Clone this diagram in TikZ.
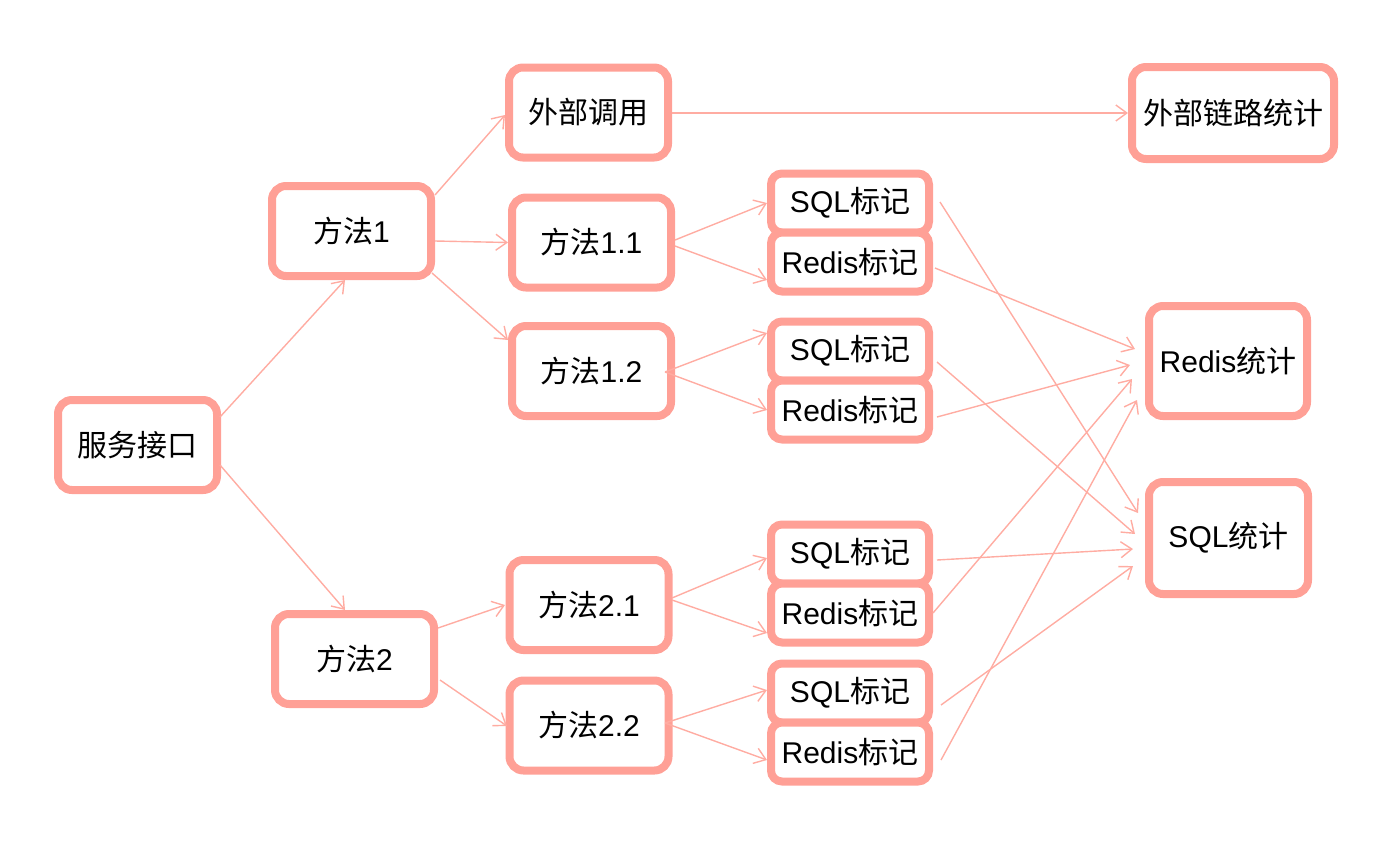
\documentclass[tikz,border=0pt]{standalone}
\usepackage{fontspec}
\setmainfont{Liberation Sans}
\newfontfamily\cjk{Noto Sans CJK SC}
\usetikzlibrary{arrows.meta}
\definecolor{boxc}{RGB}{255,160,150}
\definecolor{arrc}{RGB}{255,172,162}
\begin{document}
\begin{tikzpicture}[x=1pt,y=-1pt,
  box/.style={draw=boxc, line width=8pt, rounded corners=14pt, fill=white,
    minimum width=159pt, minimum height=90pt, inner sep=0pt,
    font=\fontsize{30}{34}\selectfont},
  markbox/.style={box, minimum width=158pt, minimum height=59pt, rounded corners=11pt},
  arr/.style={draw=arrc, line width=1.4pt, -{Straight Barb[length=11pt,width=16pt]}}]
\useasboundingbox (0,0) rectangle (1376,847);

\node[box] (api) at (137.5,445) {\cjk 服务接口};
\node[box] (m1) at (351.5,231) {{\cjk 方法}1};
\node[box] (m2) at (354.5,659) {{\cjk 方法}2};
\node[box] (ext) at (588.5,112.5) {\cjk 外部调用};
\node[box] (m11) at (591.5,242.5) {{\cjk 方法}1.1};
\node[box] (m12) at (591.5,371) {{\cjk 方法}1.2};
\node[box] (m21) at (589,605) {{\cjk 方法}2.1};
\node[box] (m22) at (589,725.5) {{\cjk 方法}2.2};

\node[markbox] (s1) at (850,203) {SQL{\cjk 标记}};
\node[markbox] (r1) at (850,262) {Redis{\cjk 标记}};
\node[markbox] (s2) at (850,351) {SQL{\cjk 标记}};
\node[markbox] (r2) at (850,410) {Redis{\cjk 标记}};
\node[markbox] (s3) at (850,554) {SQL{\cjk 标记}};
\node[markbox] (r3) at (850,613) {Redis{\cjk 标记}};
\node[markbox] (s4) at (850,693) {SQL{\cjk 标记}};
\node[markbox] (r4) at (850,752) {Redis{\cjk 标记}};

\node[box, minimum width=202pt, minimum height=92pt] (extstat) at (1233,113) {\cjk 外部链路统计};
\node[box, minimum width=158pt, minimum height=110pt] (redisstat) at (1228,361) {Redis{\cjk 统计}};
\node[box, minimum width=159pt, minimum height=112pt] (sqlstat) at (1228.5,538) {SQL{\cjk 统计}};

\draw[arr] ([shift={(82.5,-28)}]api.center) -- ([shift={(-6.5,49)}]m1.center);
\draw[arr] ([shift={(82.5,20)}]api.center) -- ([shift={(-9.5,-49)}]m2.center);
\draw[arr] ([shift={(83.5,-36)}]m1.center) -- ([shift={(-83.5,2.5)}]ext.center);
\draw[arr] ([shift={(83.5,10)}]m1.center) -- ([shift={(-83.5,0)}]m11.center);
\draw[arr] ([shift={(80.5,42)}]m1.center) -- ([shift={(-83.5,-31)}]m12.center);
\draw[arr] ([shift={(83.5,0.5)}]ext.center) -- ([shift={(-105,0)}]extstat.center);
\draw[arr] ([shift={(83.5,-31)}]m2.center) -- ([shift={(-84,0)}]m21.center);
\draw[arr] ([shift={(85.5,21)}]m2.center) -- ([shift={(-82,0.5)}]m22.center);

\draw[arr] ([shift={(83.5,-2.5)}]m11.center) -- ([shift={(-83,0)}]s1.center);
\draw[arr] ([shift={(83.5,3.5)}]m11.center) -- ([shift={(-83,18)}]r1.center);
\draw[arr] ([shift={(73.5,1)}]m12.center) -- ([shift={(-83,-18)}]s2.center);
\draw[arr] ([shift={(73.5,1)}]m12.center) -- ([shift={(-83,0)}]r2.center);
\draw[arr] ([shift={(83,-7)}]m21.center) -- ([shift={(-83,4)}]s3.center);
\draw[arr] ([shift={(83,-5)}]m21.center) -- ([shift={(-83,20)}]r3.center);
\draw[arr] ([shift={(76,-2.5)}]m22.center) -- ([shift={(-83,-3)}]s4.center);
\draw[arr] ([shift={(76,-2.5)}]m22.center) -- ([shift={(-83,8)}]r4.center);

\draw[arr] ([shift={(90,-1)}]s1.center) -- ([shift={(-90.5,-25)}]sqlstat.center);
\draw[arr] ([shift={(85,6)}]r1.center) -- ([shift={(-93,-12)}]redisstat.center);
\draw[arr] ([shift={(87,11)}]s2.center) -- ([shift={(-93.5,-4)}]sqlstat.center);
\draw[arr] ([shift={(87,7)}]r2.center) -- ([shift={(-98,4)}]redisstat.center);
\draw[arr] ([shift={(87,6)}]s3.center) -- ([shift={(-95.5,11)}]sqlstat.center);
\draw[arr] ([shift={(83,0)}]r3.center) -- ([shift={(-96,18)}]redisstat.center);
\draw[arr] ([shift={(91,12)}]s4.center) -- ([shift={(-95.5,28)}]sqlstat.center);
\draw[arr] ([shift={(91,8)}]r4.center) -- ([shift={(-91,39)}]redisstat.center);
\end{tikzpicture}
\end{document}
